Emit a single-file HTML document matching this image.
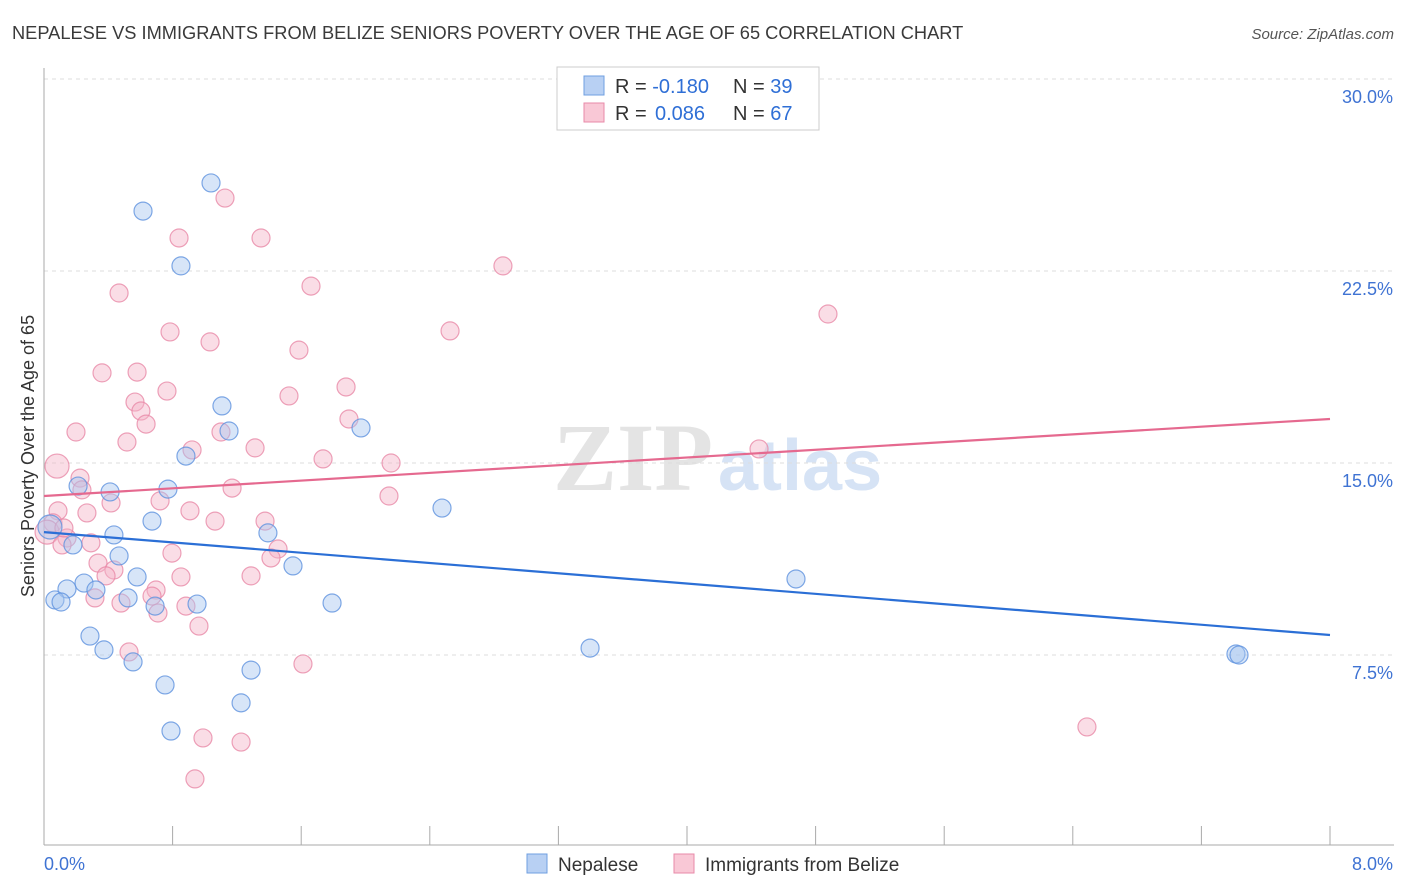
<!DOCTYPE html>
<html><head><meta charset="utf-8"><style>
body{margin:0;background:#fff;font-family:"Liberation Sans",sans-serif;}
svg{display:block}
</style></head><body>
<svg id="chart" width="1406" height="892" xmlns="http://www.w3.org/2000/svg">
<text x="12" y="39" font-size="18.25" fill="#3a3a3a">NEPALESE VS IMMIGRANTS FROM BELIZE SENIORS POVERTY OVER THE AGE OF 65 CORRELATION CHART</text>
<text x="1394" y="39" font-size="15" fill="#555" font-style="italic" text-anchor="end">Source: ZipAtlas.com</text>
<g>
<text x="553" y="490" font-size="96" fill="#e4e4e4" font-family="Liberation Serif,serif" font-weight="bold">ZIP</text>
<text x="718" y="490" font-size="72" fill="#d6e3f5" font-weight="bold">atlas</text>
</g>
<g id="grid"></g>
<g id="axes"></g>
<g id="marks"></g>
<text transform="translate(34,456) rotate(-90)" font-size="18" fill="#333" text-anchor="middle">Seniors Poverty Over the Age of 65</text>
<g>
<rect x="557" y="67" width="262" height="63" fill="#fff" stroke="#ccc"/>
<rect x="584" y="76" width="20" height="19" fill="#b8d0f3" stroke="#6f9fe0"/>
<rect x="584" y="103" width="20" height="19" fill="#f9c8d6" stroke="#e88aa8"/>
<text x="615" y="93" font-size="20" fill="#333">R = <tspan fill="#2f6fd6">-0.180</tspan><tspan x="733">N = </tspan><tspan fill="#2f6fd6">39</tspan></text>
<text x="615" y="120" font-size="20" fill="#333">R = <tspan fill="#2f6fd6" x="655">0.086</tspan><tspan x="733">N = </tspan><tspan fill="#2f6fd6">67</tspan></text>
</g>
<g>
<rect x="527" y="854" width="20" height="19" fill="#b8d0f3" stroke="#6f9fe0"/>
<text x="558" y="871" font-size="19" fill="#333">Nepalese</text>
<rect x="674" y="854" width="20" height="19" fill="#f9c8d6" stroke="#e88aa8"/>
<text x="705" y="871" font-size="19" fill="#333">Immigrants from Belize</text>
</g>
</svg>
<script>
const xTickValues=[0,0.8,1.6,2.4,3.2,4,4.8,5.6,6.4,7.2,8];
const yTickValues=[7.5,15,22.5,30];
const yTickLabels=["7.5%","15.0%","22.5%","30.0%"];
const xEndLabels=["0.0%","8.0%"];
const nepaleseX=[1.039,0.616,0.852,1.107,1.151,1.972,0.883,0.212,0.411,0.771,2.476,0.672,0.435,1.393,0.180,0.037,0.467,1.549,0.579,0.249,0.143,0.323,0.068,0.106,0.523,0.691,0.952,1.792,4.678,0.286,0.373,0.554,1.288,3.397,7.415,7.434,0.753,1.226,0.790];
const nepaleseY=[25.94,24.84,22.70,17.23,16.25,16.37,15.27,14.10,13.87,13.98,13.24,12.73,12.19,12.27,11.80,12.50,11.37,10.98,10.55,10.31,10.08,10.04,9.65,9.57,9.73,9.41,9.49,9.53,10.47,8.24,7.70,7.23,6.91,7.77,7.54,7.50,6.33,5.63,4.53];
const belizeX=[1.126,0.840,1.350,2.855,1.661,0.467,0.784,1.033,2.526,4.877,1.586,0.361,0.579,0.765,1.524,1.879,0.566,0.603,0.635,0.199,0.081,0.516,1.101,1.897,1.313,0.921,1.736,2.159,4.448,0.224,0.236,1.170,0.417,0.722,2.146,0.908,0.267,0.087,0.056,1.064,1.375,0.019,0.143,0.112,0.292,0.796,1.456,1.412,0.336,0.435,0.386,0.852,1.288,0.697,0.672,0.317,0.479,0.883,0.709,0.964,0.529,1.611,0.989,1.226,0.939,6.488,0.124];
const belizeY=[25.35,23.79,23.79,22.70,21.91,21.64,20.12,19.73,20.16,20.82,19.41,18.52,18.55,17.81,17.62,17.97,17.38,17.03,16.52,16.21,14.88,15.82,16.21,16.72,15.59,15.51,15.16,15.00,15.55,14.41,13.95,14.02,13.44,13.52,13.71,13.13,13.05,13.13,12.66,12.73,12.73,12.30,12.07,11.80,11.88,11.48,11.64,11.29,11.09,10.82,10.59,10.55,10.59,10.04,9.80,9.73,9.53,9.41,9.14,8.63,7.62,7.15,4.26,4.10,2.66,4.69,12.46];
const nepaleseTrend=[12.30,8.28];
const belizeTrend=[13.71,16.72];

const NS="http://www.w3.org/2000/svg";
const xs=v=>44+v/8*1286;
const ys=v=>847-v*25.6;
function mk(tag,attrs,parent){const e=document.createElementNS(NS,tag);for(const k in attrs)e.setAttribute(k,attrs[k]);parent.appendChild(e);return e;}
const grid=document.getElementById('grid'),axes=document.getElementById('axes'),marks=document.getElementById('marks');
yTickValues.forEach((v,i)=>{
  const l=mk('line',{x1:44,x2:1394,y1:ys(v),y2:ys(v),stroke:'#ddd','stroke-dasharray':'4,4'},grid);
  
  
  const t=mk('text',{x:1393,y:ys(v)+24,'font-size':18,fill:'#3f73d3','text-anchor':'end'},axes);
  t.textContent=yTickLabels[i];
  
  
});
mk('line',{x1:44,x2:44,y1:68,y2:845,stroke:'#aaa'},axes);
mk('line',{x1:44,x2:1394,y1:845,y2:845,stroke:'#aaa'},axes);
xTickValues.forEach(v=>{
  const t=mk('line',{x1:xs(v),x2:xs(v),y1:826,y2:845,stroke:'#aaa'},axes);
  
  
});
const xl0=mk('text',{x:44,y:870,'font-size':18,fill:'#3f73d3'},axes);xl0.textContent=xEndLabels[0];


const xl1=mk('text',{x:1393,y:870,'font-size':18,fill:'#3f73d3','text-anchor':'end'},axes);xl1.textContent=xEndLabels[1];


function pts(X,Y,fill,stroke,name){
  X.forEach((x,i)=>{
    const r=(x<0.1&&(Y[i]>14.5||Y[i]>12.2&&Y[i]<12.6))?12:9;
    const c=mk('circle',{cx:xs(x),cy:ys(Y[i]),r:r,fill:fill,'fill-opacity':0.45,stroke:stroke,'stroke-opacity':0.8,'stroke-width':1.2},marks);
    
    
  });
}
pts(belizeX,belizeY,'#f5b3c7','#e88aa8','belize-point');
pts(nepaleseX,nepaleseY,'#a7c5f0','#5f92de','nepalese-point');
const bl=mk('line',{x1:xs(0),y1:ys(belizeTrend[0]),x2:xs(8),y2:ys(belizeTrend[1]),stroke:'#e5698f','stroke-width':2.2},marks);


const nl=mk('line',{x1:xs(0),y1:ys(nepaleseTrend[0]),x2:xs(8),y2:ys(nepaleseTrend[1]),stroke:'#2b6fd6','stroke-width':2.2},marks);


</script>
</body></html>
